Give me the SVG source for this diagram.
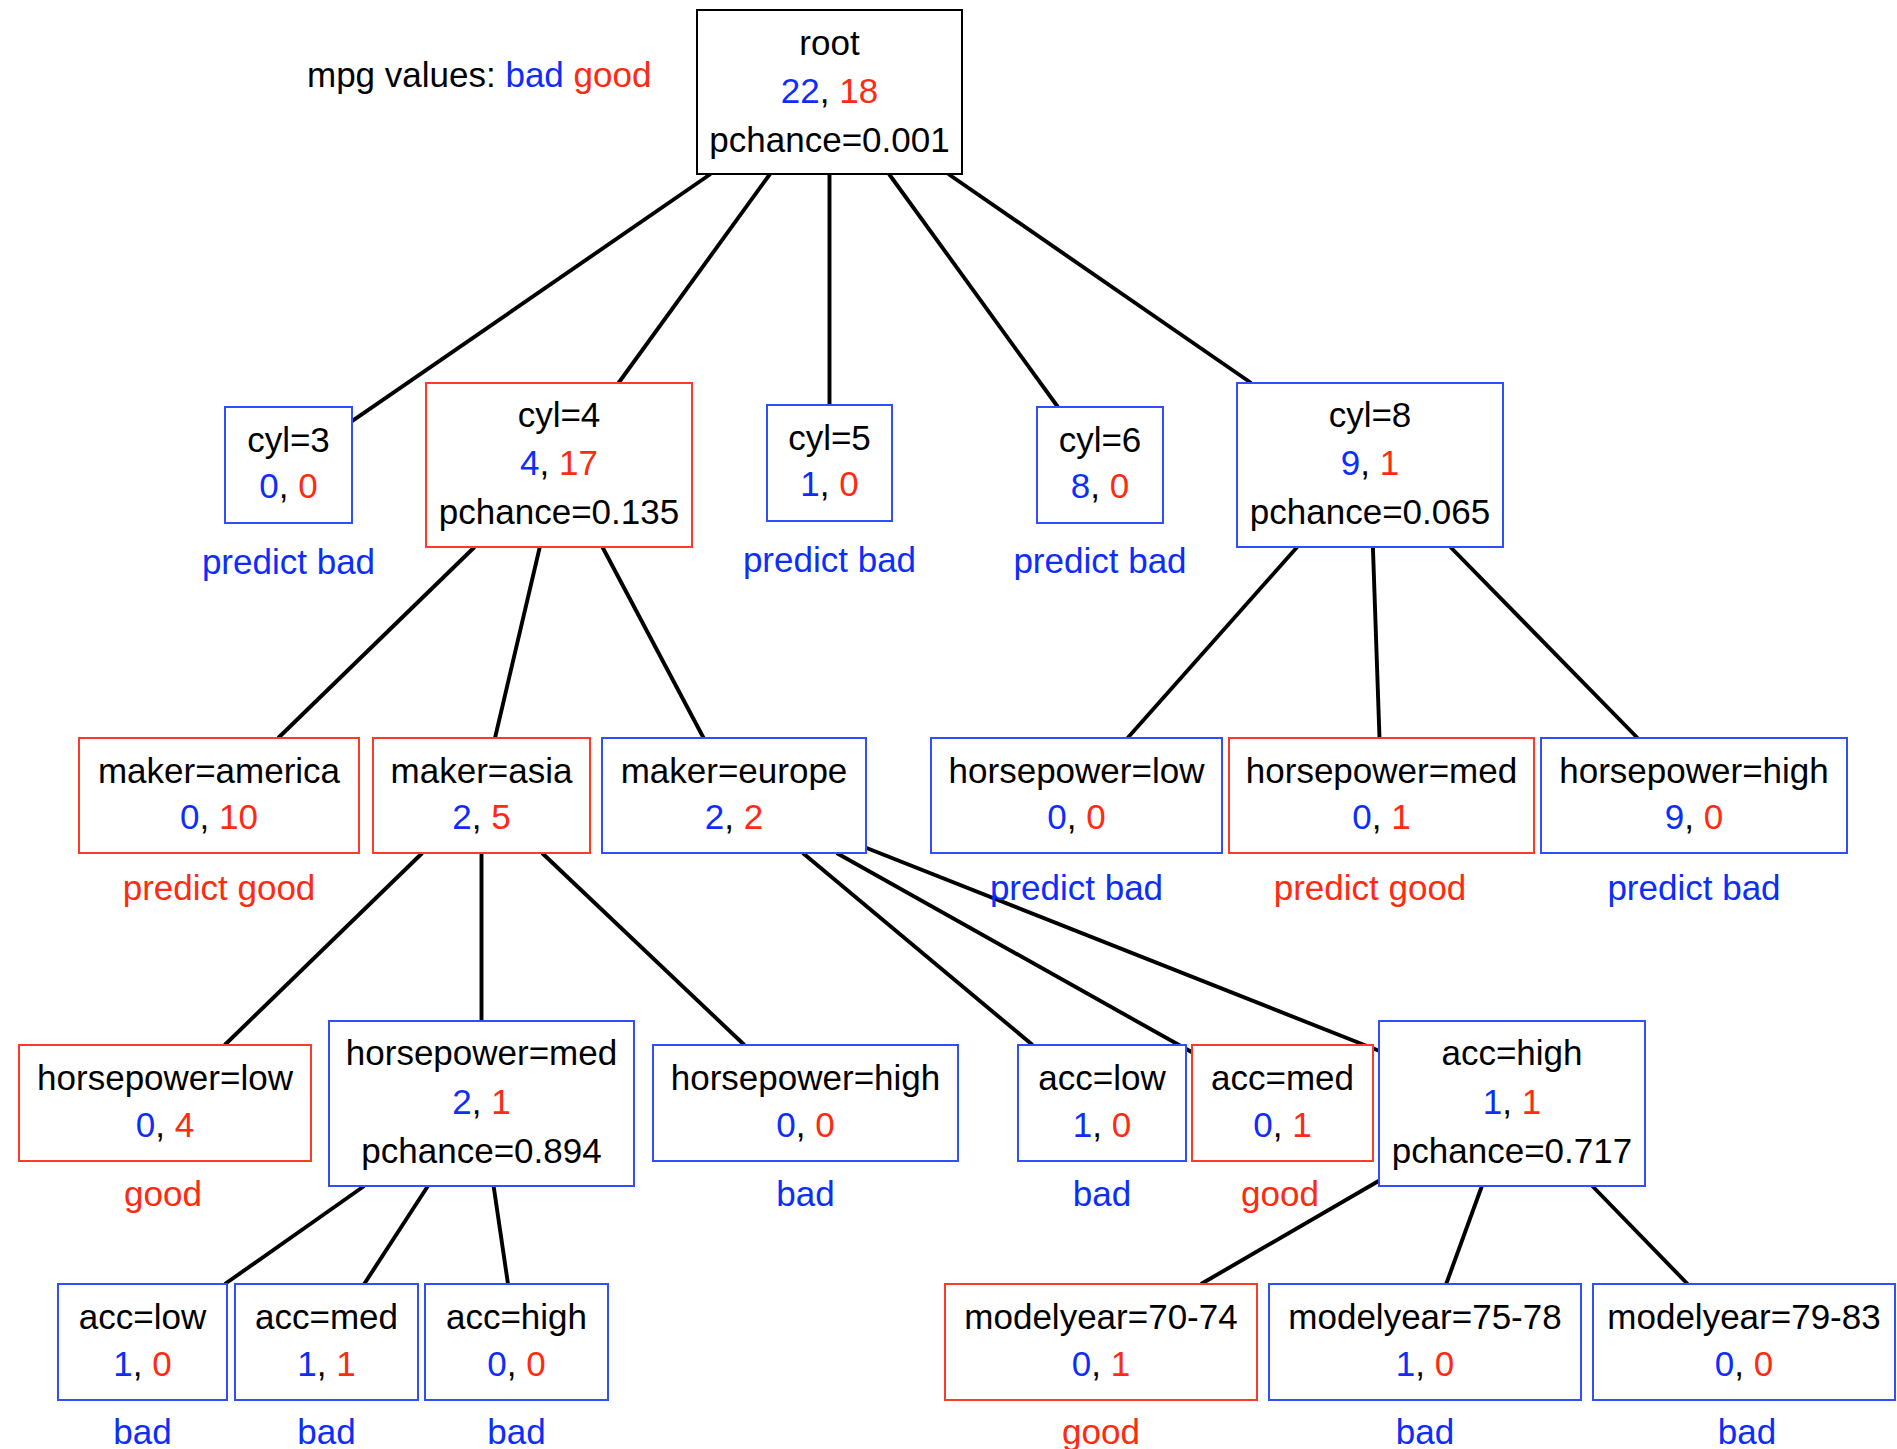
<svg xmlns="http://www.w3.org/2000/svg" width="1897" height="1449" viewBox="0 0 1897 1449">
  <style>
    text { font-family: "Liberation Sans", Arial, sans-serif; font-size: 35px; fill: #000; text-anchor: middle; }
    .b { fill: #0d2dff; }
    .r { fill: #ff2a10; }
    .box { fill: #fff; stroke-width: 2; }
    .box-k { stroke: #000; }
    .box-b { stroke: #2f4fff; }
    .box-r { stroke: #ff3a28; }
    .edges line { stroke: #000; stroke-width: 3.9; stroke-linecap: butt; }
  </style>

  <!-- legend -->
  <text x="307" y="87" style="text-anchor:start">mpg values: <tspan class="b">bad</tspan> <tspan class="r">good</tspan></text>

  <!-- connectors: centre-to-centre segments clipped at box borders -->
  <g class="edges" id="edges">
    <line x1="710.6" y1="174" x2="352" y2="421.2"/>
    <line x1="770" y1="174" x2="618.5" y2="383"/>
    <line x1="829.5" y1="174" x2="829.5" y2="405"/>
    <line x1="889" y1="174" x2="1057.9" y2="407"/>
    <line x1="948.3" y1="174" x2="1251.2" y2="383"/>

    <line x1="474.6" y1="547" x2="278.2" y2="738"/>
    <line x1="539.8" y1="547" x2="495" y2="738"/>
    <line x1="602.4" y1="547" x2="703.6" y2="738"/>

    <line x1="1297.2" y1="547" x2="1127.6" y2="738"/>
    <line x1="1372.9" y1="547" x2="1379.5" y2="738"/>
    <line x1="1450.4" y1="547" x2="1637.6" y2="738"/>

    <line x1="422.3" y1="853" x2="224.7" y2="1045"/>
    <line x1="481.5" y1="853" x2="481.5" y2="1021"/>
    <line x1="542.1" y1="853" x2="744.4" y2="1045"/>

    <line x1="802.8" y1="853" x2="1032.6" y2="1045"/>
    <line x1="836.6" y1="853" x2="1192" y2="1052.3"/>
    <line x1="866" y1="847.8" x2="1379" y2="1050.8"/>

    <line x1="364.2" y1="1186" x2="224.9" y2="1284"/>
    <line x1="427.9" y1="1186" x2="364.2" y2="1284"/>
    <line x1="493.6" y1="1186" x2="508" y2="1284"/>

    <line x1="1379" y1="1180.7" x2="1201" y2="1284"/>
    <line x1="1481.9" y1="1186" x2="1446.2" y2="1284"/>
    <line x1="1592.3" y1="1186" x2="1687.6" y2="1284"/>
  </g>

  <!-- level 0 -->
  <g id="root">
    <rect class="box box-k" x="697" y="10" width="265" height="164"/>
    <text x="829.5" y="55">root</text>
    <text x="829.5" y="103"><tspan class="b">22</tspan>, <tspan class="r">18</tspan></text>
    <text x="829.5" y="152">pchance=0.001</text>
  </g>

  <!-- level 1: cylinders -->
  <g id="cyl3">
    <rect class="box box-b" x="225" y="407" width="127" height="116"/>
    <text x="288.5" y="452">cyl=3</text>
    <text x="288.5" y="498"><tspan class="b">0</tspan>, <tspan class="r">0</tspan></text>
    <text x="288.5" y="574" class="b">predict bad</text>
  </g>
  <g id="cyl4">
    <rect class="box box-r" x="426" y="383" width="266" height="164"/>
    <text x="559" y="427">cyl=4</text>
    <text x="559" y="475"><tspan class="b">4</tspan>, <tspan class="r">17</tspan></text>
    <text x="559" y="524">pchance=0.135</text>
  </g>
  <g id="cyl5">
    <rect class="box box-b" x="767" y="405" width="125" height="116"/>
    <text x="829.5" y="450">cyl=5</text>
    <text x="829.5" y="496"><tspan class="b">1</tspan>, <tspan class="r">0</tspan></text>
    <text x="829.5" y="572" class="b">predict bad</text>
  </g>
  <g id="cyl6">
    <rect class="box box-b" x="1037" y="407" width="126" height="116"/>
    <text x="1100" y="452">cyl=6</text>
    <text x="1100" y="498"><tspan class="b">8</tspan>, <tspan class="r">0</tspan></text>
    <text x="1100" y="573" class="b">predict bad</text>
  </g>
  <g id="cyl8">
    <rect class="box box-b" x="1237" y="383" width="266" height="164"/>
    <text x="1370" y="427">cyl=8</text>
    <text x="1370" y="475"><tspan class="b">9</tspan>, <tspan class="r">1</tspan></text>
    <text x="1370" y="524">pchance=0.065</text>
  </g>

  <!-- level 2 -->
  <g id="cyl4-america">
    <rect class="box box-r" x="79" y="738" width="280" height="115"/>
    <text x="219" y="783">maker=america</text>
    <text x="219" y="829"><tspan class="b">0</tspan>, <tspan class="r">10</tspan></text>
    <text x="219" y="900" class="r">predict good</text>
  </g>
  <g id="cyl4-asia">
    <rect class="box box-r" x="373" y="738" width="217" height="115"/>
    <text x="481.5" y="783">maker=asia</text>
    <text x="481.5" y="829"><tspan class="b">2</tspan>, <tspan class="r">5</tspan></text>
  </g>
  <g id="cyl4-europe">
    <rect class="box box-b" x="602" y="738" width="264" height="115"/>
    <text x="734" y="783">maker=europe</text>
    <text x="734" y="829"><tspan class="b">2</tspan>, <tspan class="r">2</tspan></text>
  </g>
  <g id="cyl8-hp-low">
    <rect class="box box-b" x="931" y="738" width="291" height="115"/>
    <text x="1076.5" y="783">horsepower=low</text>
    <text x="1076.5" y="829"><tspan class="b">0</tspan>, <tspan class="r">0</tspan></text>
    <text x="1076.5" y="900" class="b">predict bad</text>
  </g>
  <g id="cyl8-hp-med">
    <rect class="box box-r" x="1229" y="738" width="305" height="115"/>
    <text x="1381.5" y="783">horsepower=med</text>
    <text x="1381.5" y="829"><tspan class="b">0</tspan>, <tspan class="r">1</tspan></text>
    <text x="1370" y="900" class="r">predict good</text>
  </g>
  <g id="cyl8-hp-high">
    <rect class="box box-b" x="1541" y="738" width="306" height="115"/>
    <text x="1694" y="783">horsepower=high</text>
    <text x="1694" y="829"><tspan class="b">9</tspan>, <tspan class="r">0</tspan></text>
    <text x="1694" y="900" class="b">predict bad</text>
  </g>

  <!-- level 3 -->
  <g id="asia-hp-low">
    <rect class="box box-r" x="19" y="1045" width="292" height="116"/>
    <text x="165" y="1090">horsepower=low</text>
    <text x="165" y="1137"><tspan class="b">0</tspan>, <tspan class="r">4</tspan></text>
    <text x="163" y="1206" class="r">good</text>
  </g>
  <g id="asia-hp-med">
    <rect class="box box-b" x="329" y="1021" width="305" height="165"/>
    <text x="481.5" y="1065">horsepower=med</text>
    <text x="481.5" y="1114"><tspan class="b">2</tspan>, <tspan class="r">1</tspan></text>
    <text x="481.5" y="1163">pchance=0.894</text>
  </g>
  <g id="asia-hp-high">
    <rect class="box box-b" x="653" y="1045" width="305" height="116"/>
    <text x="805.5" y="1090">horsepower=high</text>
    <text x="805.5" y="1137"><tspan class="b">0</tspan>, <tspan class="r">0</tspan></text>
    <text x="805.5" y="1206" class="b">bad</text>
  </g>
  <g id="europe-acc-low">
    <rect class="box box-b" x="1018" y="1045" width="168" height="116"/>
    <text x="1102" y="1090">acc=low</text>
    <text x="1102" y="1137"><tspan class="b">1</tspan>, <tspan class="r">0</tspan></text>
    <text x="1102" y="1206" class="b">bad</text>
  </g>
  <g id="europe-acc-med">
    <rect class="box box-r" x="1192" y="1045" width="181" height="116"/>
    <text x="1282.5" y="1090">acc=med</text>
    <text x="1282.5" y="1137"><tspan class="b">0</tspan>, <tspan class="r">1</tspan></text>
    <text x="1280" y="1206" class="r">good</text>
  </g>
  <g id="europe-acc-high">
    <rect class="box box-b" x="1379" y="1021" width="266" height="165"/>
    <text x="1512" y="1065">acc=high</text>
    <text x="1512" y="1114"><tspan class="b">1</tspan>, <tspan class="r">1</tspan></text>
    <text x="1512" y="1163">pchance=0.717</text>
  </g>

  <!-- level 4 -->
  <g id="hpmed-acc-low">
    <rect class="box box-b" x="58" y="1284" width="169" height="116"/>
    <text x="142.5" y="1329">acc=low</text>
    <text x="142.5" y="1376"><tspan class="b">1</tspan>, <tspan class="r">0</tspan></text>
    <text x="142.5" y="1444" class="b">bad</text>
  </g>
  <g id="hpmed-acc-med">
    <rect class="box box-b" x="235" y="1284" width="183" height="116"/>
    <text x="326.5" y="1329">acc=med</text>
    <text x="326.5" y="1376"><tspan class="b">1</tspan>, <tspan class="r">1</tspan></text>
    <text x="326.5" y="1444" class="b">bad</text>
  </g>
  <g id="hpmed-acc-high">
    <rect class="box box-b" x="425" y="1284" width="183" height="116"/>
    <text x="516.5" y="1329">acc=high</text>
    <text x="516.5" y="1376"><tspan class="b">0</tspan>, <tspan class="r">0</tspan></text>
    <text x="516.5" y="1444" class="b">bad</text>
  </g>
  <g id="acchigh-my-70-74">
    <rect class="box box-r" x="945" y="1284" width="312" height="116"/>
    <text x="1101" y="1329">modelyear=70-74</text>
    <text x="1101" y="1376"><tspan class="b">0</tspan>, <tspan class="r">1</tspan></text>
    <text x="1101" y="1444" class="r">good</text>
  </g>
  <g id="acchigh-my-75-78">
    <rect class="box box-b" x="1269" y="1284" width="312" height="116"/>
    <text x="1425" y="1329">modelyear=75-78</text>
    <text x="1425" y="1376"><tspan class="b">1</tspan>, <tspan class="r">0</tspan></text>
    <text x="1425" y="1444" class="b">bad</text>
  </g>
  <g id="acchigh-my-79-83">
    <rect class="box box-b" x="1593" y="1284" width="302" height="116"/>
    <text x="1744" y="1329">modelyear=79-83</text>
    <text x="1744" y="1376"><tspan class="b">0</tspan>, <tspan class="r">0</tspan></text>
    <text x="1747" y="1444" class="b">bad</text>
  </g>
</svg>
